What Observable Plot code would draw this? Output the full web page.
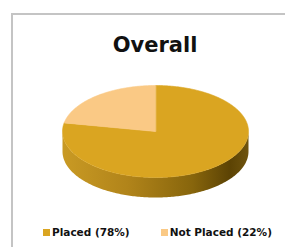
<!DOCTYPE html>
<html>
<head>
<meta charset="utf-8">
<script src="https://cdn.jsdelivr.net/npm/d3@7"></script>
<script src="https://cdn.jsdelivr.net/npm/@observablehq/plot@0.6"></script>
<style>
  html, body { margin: 0; padding: 0; background: #fff; }
  body { width: 285px; height: 247px; overflow: hidden; position: relative; font-family: "DejaVu Sans", sans-serif; }
  #frame { position: absolute; left: 11px; top: 13px; width: 300px; height: 260px;
           border-left: 2px solid #c4c4c4; border-top: 2px solid #c4c4c4; }
  #chart { position: absolute; left: 0; top: 0; }
  #chart svg { background: transparent; }
  #title { position: absolute; left: 0; width: 310px; top: 35px; text-align: center;
           font: bold 21px/21px "DejaVu Sans", sans-serif; color: #111; }
  #legend { position: absolute; left: 43px; top: 227px; display: flex; gap: 31px;
            font: bold 10.5px/10.5px "DejaVu Sans", sans-serif; color: #111; white-space: nowrap; }
  .item { display: flex; align-items: center; gap: 2px; }
  .sw { width: 7px; height: 7px; display: inline-block; }
</style>
</head>
<body>
<div id="frame"></div>
<div id="chart"></div>
<div id="title"></div>
<div id="legend"></div>
<script>
// ---- data ----
const title = "Overall";
const categories = ["Placed", "Not Placed"];
const values = [78, 22];
const legendLabels = ["Placed (78%)", "Not Placed (22%)"];

// ---- styles ----
const topColors = ["#DAA521", "#FAC985"];
const sideColors = ["url(#sideGrad0)", "url(#sideGrad1)"];
const depth = 0.435; // side thickness in y-units of the ellipse

const rows = categories.map((c, i) => ({name: c, value: values[i], i}));
const arcs = d3.pie().sort(null).value(d => d.value)(rows);

function arcPts(a0, a1, dy) {
  const n = Math.max(2, Math.ceil(Math.abs(a1 - a0) / (Math.PI / 180)));
  const pts = [];
  for (let k = 0; k <= n; k++) {
    const a = a0 + (a1 - a0) * k / n;
    pts.push({x: Math.sin(a), y: -Math.cos(a) + dy});
  }
  return pts;
}

const marks = [];
// gradient defs
marks.push(() => {
  const ns = "http://www.w3.org/2000/svg";
  const defs = document.createElementNS(ns, "defs");
  const grads = [
    [["0%", "#c99a24"], ["35%", "#b1841a"], ["70%", "#87650c"], ["90%", "#5c4304"], ["100%", "#6f540e"]],
    [["0%", "#e0b06a"], ["100%", "#a87a3c"]]
  ];
  grads.forEach((stops, gi) => {
    const g = document.createElementNS(ns, "linearGradient");
    g.setAttribute("id", "sideGrad" + gi);
    g.setAttribute("x1", "0"); g.setAttribute("x2", "1");
    g.setAttribute("y1", "0"); g.setAttribute("y2", "0");
    stops.forEach(([o, c]) => {
      const s = document.createElementNS(ns, "stop");
      s.setAttribute("offset", o); s.setAttribute("stop-color", c);
      g.appendChild(s);
    });
    defs.appendChild(g);
  });
  return defs;
});

// side walls (visible front half: angles PI/2 .. 3PI/2)
arcs.forEach(a => {
  const lo = Math.max(a.startAngle, Math.PI / 2);
  const hi = Math.min(a.endAngle, 3 * Math.PI / 2);
  if (hi > lo) {
    const pts = [...arcPts(lo, hi, 0), ...arcPts(hi, lo, depth)];
    marks.push(Plot.line(pts, {x: "x", y: "y", fill: sideColors[a.data.i], stroke: "none", curve: "linear-closed"}));
  }
});
// top faces
arcs.forEach(a => {
  const pts = [{x: 0, y: 0}, ...arcPts(a.startAngle, a.endAngle, 0)];
  marks.push(Plot.line(pts, {x: "x", y: "y", fill: topColors[a.data.i], stroke: topColors[a.data.i], strokeWidth: 0.6, curve: "linear-closed"}));
});

const chart = Plot.plot({
  width: 285,
  height: 247,
  margin: 0,
  x: {domain: [-1, 1], range: [62, 248], axis: null},
  y: {domain: [-1, 1 + depth], range: [85, 197], axis: null},
  marks
});
document.getElementById("chart").appendChild(chart);

document.getElementById("title").textContent = title;
const legend = document.getElementById("legend");
legendLabels.forEach((lab, i) => {
  const it = document.createElement("span");
  it.className = "item";
  const sw = document.createElement("span");
  sw.className = "sw";
  sw.style.background = topColors[i];
  const t = document.createElement("span");
  t.textContent = lab;
  it.appendChild(sw); it.appendChild(t);
  legend.appendChild(it);
});
</script>
</body>
</html>
